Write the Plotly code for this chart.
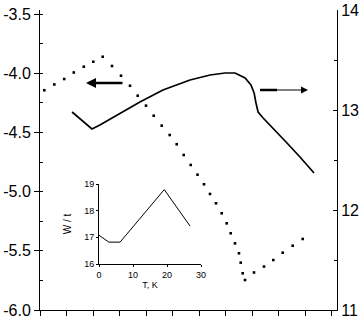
import plotly.graph_objects as go

# Dotted series (left axis)
dot_x = [0.162, 0.540, 0.913, 1.275, 1.653, 2.011, 2.366, 2.717, 3.057, 3.396,
         3.687, 4.000, 4.291, 4.592, 4.894, 5.158, 5.423, 5.687, 5.943, 6.189,
         6.415, 6.642, 6.857, 7.045, 7.196, 7.358, 7.509, 7.574, 7.649, 7.736,
         8.075, 8.453, 8.804, 9.158, 9.536, 9.913]
dot_y = [-4.144, -4.095, -4.049, -3.994, -3.945, -3.903, -3.861, -3.939, -4.021, -4.106,
         -4.190, -4.274, -4.359, -4.443, -4.522, -4.600, -4.691, -4.775, -4.857, -4.938,
         -5.020, -5.099, -5.183, -5.268, -5.352, -5.437, -5.521, -5.600, -5.690, -5.747,
         -5.683, -5.633, -5.578, -5.516, -5.457, -5.400]

# Solid series (right axis)
line_x = [1.21, 1.96, 2.26, 3.02, 3.77, 4.64, 5.66, 6.42, 6.98, 7.36, 7.74, 7.96,
          8.08, 8.15, 8.23, 8.42, 8.87, 9.32, 9.81, 10.34]
line_y = [12.98, 12.81, 12.85, 12.97, 13.08, 13.20, 13.30, 13.35, 13.37, 13.37, 13.32, 13.25,
          13.17, 13.07, 12.98, 12.92, 12.80, 12.67, 12.53, 12.37]

# Inset
inset_x = [0, 2.9, 6.2, 19.2, 26.8]
inset_y = [17.08, 16.82, 16.82, 18.79, 17.42]

left_ticks = [-6.0, -5.5, -5.0, -4.5, -4.0, -3.5]
left_labels = ["-6.0", "-5.5", "-5.0", "-4.5", "-4.0", "-3.5"]
right_ticks = [11, 12, 13, 14]
inset_yticks = [16, 17, 18, 19]
inset_xticks = [0, 10, 20, 30]

FONT = "Liberation Sans, Arial, sans-serif"

fig = go.Figure()
fig.add_trace(go.Scatter(x=dot_x, y=dot_y, mode="markers",
                         marker=dict(symbol="square", size=2.6, color="black", line=dict(width=0)),
                         xaxis="x", yaxis="y", showlegend=False))
fig.add_trace(go.Scatter(x=line_x, y=line_y, mode="lines",
                         line=dict(color="black", width=1.7),
                         xaxis="x", yaxis="y2", showlegend=False))
fig.add_trace(go.Scatter(x=inset_x, y=inset_y, mode="lines",
                         line=dict(color="black", width=1),
                         xaxis="x2", yaxis="y3", showlegend=False))

W, H = 363, 316
L, R, T, B = 40, 26, 10, 6
pw, ph = W - L - R, H - T - B

def px_x(p):
    return (p - L) / pw

def px_y(p):
    return (H - B - p) / ph

fig.update_layout(
    width=W, height=H,
    margin=dict(l=L, r=R, t=T, b=B, autoexpand=False),
    paper_bgcolor="white", plot_bgcolor="white",
    font=dict(family=FONT, color="black", size=16),
    xaxis=dict(range=[0, 297 / 26.5], showgrid=False, zeroline=False, showline=True,
               linecolor="black", linewidth=1, ticks="outside", ticklen=5, tickcolor="black",
               tick0=0, dtick=1, showticklabels=False, automargin=False),
    yaxis=dict(range=[-6.0, -3.5 + 4 / 118.4], showgrid=False, zeroline=False, showline=True,
               linecolor="black", linewidth=1, ticks="outside", ticklen=5, tickcolor="black",
               tickvals=left_ticks, ticktext=left_labels, tickfont=dict(size=16),
               automargin=False, ticklabeloverflow="allow",
               minor=dict(ticks="inside", ticklen=3, tickcolor="black", dtick=0.25, tick0=-6)),
    yaxis2=dict(range=[11, 14], overlaying="y", side="right", showgrid=False, zeroline=False,
                showline=True, linecolor="black", linewidth=1, ticks="inside", ticklen=4,
                tickcolor="black", tickvals=right_ticks, tickfont=dict(size=16),
                automargin=False, ticklabeloverflow="allow",
                minor=dict(ticks="inside", ticklen=3, tickcolor="black", dtick=0.5, tick0=11)),
    xaxis2=dict(domain=[px_x(99), px_x(201)], anchor="y3", range=[0, 30], showgrid=False,
                zeroline=False, showline=True, linecolor="black", linewidth=1,
                ticks="outside", ticklen=2, tickcolor="black", tickvals=inset_xticks,
                tickfont=dict(size=9), automargin=False,
                title=dict(text="T, K", font=dict(size=9), standoff=2)),
    yaxis3=dict(domain=[px_y(264), px_y(184)], anchor="x2", range=[16, 19], showgrid=False,
                zeroline=False, showline=True, linecolor="black", linewidth=1,
                ticks="outside", ticklen=2, tickcolor="black", tickvals=inset_yticks,
                tickfont=dict(size=9), automargin=False,
                title=dict(text="W / t", font=dict(size=10), standoff=10)),
)

# Arrows indicating which axis each curve belongs to
fig.add_annotation(x=(86 - L) / 26.5, y=-3.5 - (83 - 14) / 118.4, xref="x", yref="y",
                   ax=(124 - L) / 26.5, ay=-3.5 - (83 - 14) / 118.4, axref="x", ayref="y",
                   showarrow=True, arrowhead=2, arrowsize=0.8, arrowwidth=2.5,
                   arrowcolor="black", text="")
fig.add_annotation(x=(308 - L) / 26.5, y=14 - (90 - 10) / 100, xref="x", yref="y2",
                   ax=(260 - L) / 26.5, ay=14 - (90 - 10) / 100, axref="x", ayref="y2",
                   showarrow=True, arrowhead=2, arrowsize=1.4, arrowwidth=1,
                   arrowcolor="black", text="")
fig.add_shape(type="line", xref="x", yref="y2",
              x0=(260 - L) / 26.5, x1=(277 - L) / 26.5,
              y0=14 - (90 - 10) / 100, y1=14 - (90 - 10) / 100,
              line=dict(color="black", width=2.5))

post = (
    "document.documentElement.style.margin='0';"
    "document.documentElement.style.overflow='hidden';"
    "document.body.style.margin='0';"
    "document.body.style.overflow='hidden';"
)

fig.write_html("out.html", config={"displayModeBar": False}, post_script=post)
